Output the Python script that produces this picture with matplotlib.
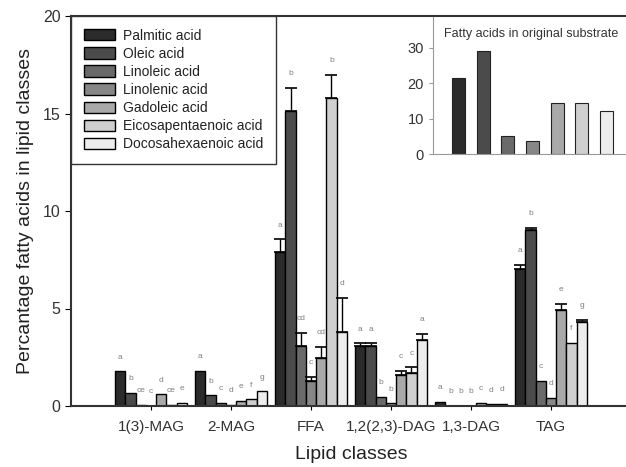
import numpy as np
from matplotlib import pyplot as plt

# 脂质类别
classes = ['1(3)-MAG', '2-MAG', 'FFA', '1,2(2,3)-DAG', '1,3-DAG', 'TAG']
acids = ['Palmitic acid', 'Oleic acid', 'Linoleic acid', 'Linolenic acid',
         'Gadoleic acid', 'Eicosapentaenoic acid', 'Docosahexaenoic acid']

# 每个脂肪酸在各脂质类别中的百分比 (按 classes 顺序)
palmitic = [1.78, 1.80, 7.90, 3.08, 0.22, 7.02]
oleic = [0.68, 0.55, 15.13, 3.08, 0.02, 9.03]
linoleic = [0.06, 0.17, 3.08, 0.48, 0.02, 1.28]
linolenic = [0.02, 0.05, 1.30, 0.14, 0.02, 0.43]
gadoleic = [0.60, 0.27, 2.45, 1.59, 0.17, 4.92]
epa = [0.07, 0.34, 15.80, 1.71, 0.08, 3.25]
dha = [0.15, 0.75, 3.78, 3.38, 0.10, 4.33]

# 误差 (只画上方)
err_palmitic = [0, 0, 0.64, 0.13, 0, 0.20]
err_oleic = [0, 0, 1.20, 0.13, 0, 0.12]
err_linoleic = [0, 0, 0.68, 0, 0, 0]
err_linolenic = [0, 0, 0.20, 0, 0, 0]
err_gadoleic = [0, 0, 0.60, 0.20, 0, 0.30]
err_epa = [0, 0, 1.17, 0.27, 0, 0]
err_dha = [0, 0, 1.76, 0.31, 0, 0.10]

# 显著性字母
let_palmitic = ['a', 'a', 'a', 'a', 'a', 'a']
let_oleic = ['b', 'b', 'b', 'a', 'b', 'b']
let_linoleic = ['ce', 'c', 'cd', 'b', 'b', 'c']
let_linolenic = ['c', 'd', 'c', 'b', 'b', 'd']
let_gadoleic = ['d', 'e', 'cd', 'c', 'c', 'e']
let_epa = ['ce', 'f', 'b', 'c', 'd', 'f']
let_dha = ['e', 'g', 'd', 'a', 'd', 'g']

# 原始底物中的脂肪酸
substrate = [21.4, 28.9, 5.0, 3.6, 14.5, 14.5, 12.0]

series = [palmitic, oleic, linoleic, linolenic, gadoleic, epa, dha]
errors = [err_palmitic, err_oleic, err_linoleic, err_linolenic,
          err_gadoleic, err_epa, err_dha]
letters = [let_palmitic, let_oleic, let_linoleic, let_linolenic,
           let_gadoleic, let_epa, let_dha]
colors = ['#2b2b2b', '#4b4b4b', '#6a6a6a', '#878787', '#a9a9a9', '#cfcfcf', '#ededed']

plt.rcParams['font.family'] = ['Liberation Sans', 'DejaVu Sans']

fig = plt.figure(figsize=(6.26, 4.67), dpi=100)
ax = fig.add_axes([71 / 626, 61 / 467, 560 / 626, 390 / 467])

x = np.arange(1, len(classes) + 1)
bw = 0.128
for i, (vals, errs, lets, c, name) in enumerate(zip(series, errors, letters, colors, acids)):
    pos = x + (i - 3) * bw
    ax.bar(pos, vals, bw, color=c, edgecolor='black', linewidth=1.0, label=name)
    errs = np.array(errs)
    m = errs > 0
    ax.errorbar(pos[m], np.array(vals)[m], yerr=[np.zeros(m.sum()), errs[m]],
                fmt='none', ecolor='black', elinewidth=1.0, capsize=4.5, capthick=1.2)
    for p, v, e, t in zip(pos, vals, errs, lets):
        ax.text(p, v + e + 0.55, t, ha='center', va='bottom', fontsize=6, color='#808080')

ax.set_xlim(0, 7)
ax.set_ylim(0, 20)
ax.set_xticks(x)
ax.set_xticklabels(classes, fontsize=11, color='#333333')
ax.set_yticks([0, 5, 10, 15, 20])
ax.tick_params(axis='y', labelsize=11.5, labelcolor='#333333', direction='out', length=4)
ax.tick_params(axis='x', direction='out', length=3, pad=7)
ax.spines['right'].set_visible(False)
for s in ['left', 'bottom', 'top']:
    ax.spines[s].set_linewidth(1.5)
    ax.spines[s].set_color('#333333')
ax.set_ylabel('Percantage fatty acids in lipid classes', fontsize=14, color='#222222', labelpad=6)
ax.set_xlabel('Lipid classes', fontsize=14, color='#222222', labelpad=9)

leg = ax.legend(loc='upper left', borderaxespad=0, fontsize=10, fancybox=False,
                edgecolor='#333333', handlelength=2.3, handleheight=0.9,
                labelspacing=0.3, borderpad=0.9, handletextpad=0.55)
leg.get_frame().set_linewidth(1.0)
leg.get_frame().set_alpha(1)
for t in leg.get_texts():
    t.set_color('#222222')

# 插图: 原始底物
ins = fig.add_axes([433 / 626, 1 - 154 / 467, 207 / 626, 137 / 467])
ix = np.arange(len(substrate))
ins.bar(ix, substrate, 0.53, color=colors, edgecolor='#222222', linewidth=0.8)
ins.set_xlim(-1.03, 7.35)
ins.set_ylim(0, 38.6)
ins.set_yticks([0, 10, 20, 30])
ins.set_xticks([])
ins.tick_params(axis='y', labelsize=10.5, labelcolor='#333333', length=3, color='#999999')
for s in ['right', 'top']:
    ins.spines[s].set_visible(False)
for s in ['left', 'bottom']:
    ins.spines[s].set_color('#999999')
ins.patch.set_alpha(0)
ins.text(2.95, 35.6, 'Fatty acids in original substrate', ha='center', va='top',
         fontsize=9, color='#333333')

plt.savefig('out.png', dpi=100)
